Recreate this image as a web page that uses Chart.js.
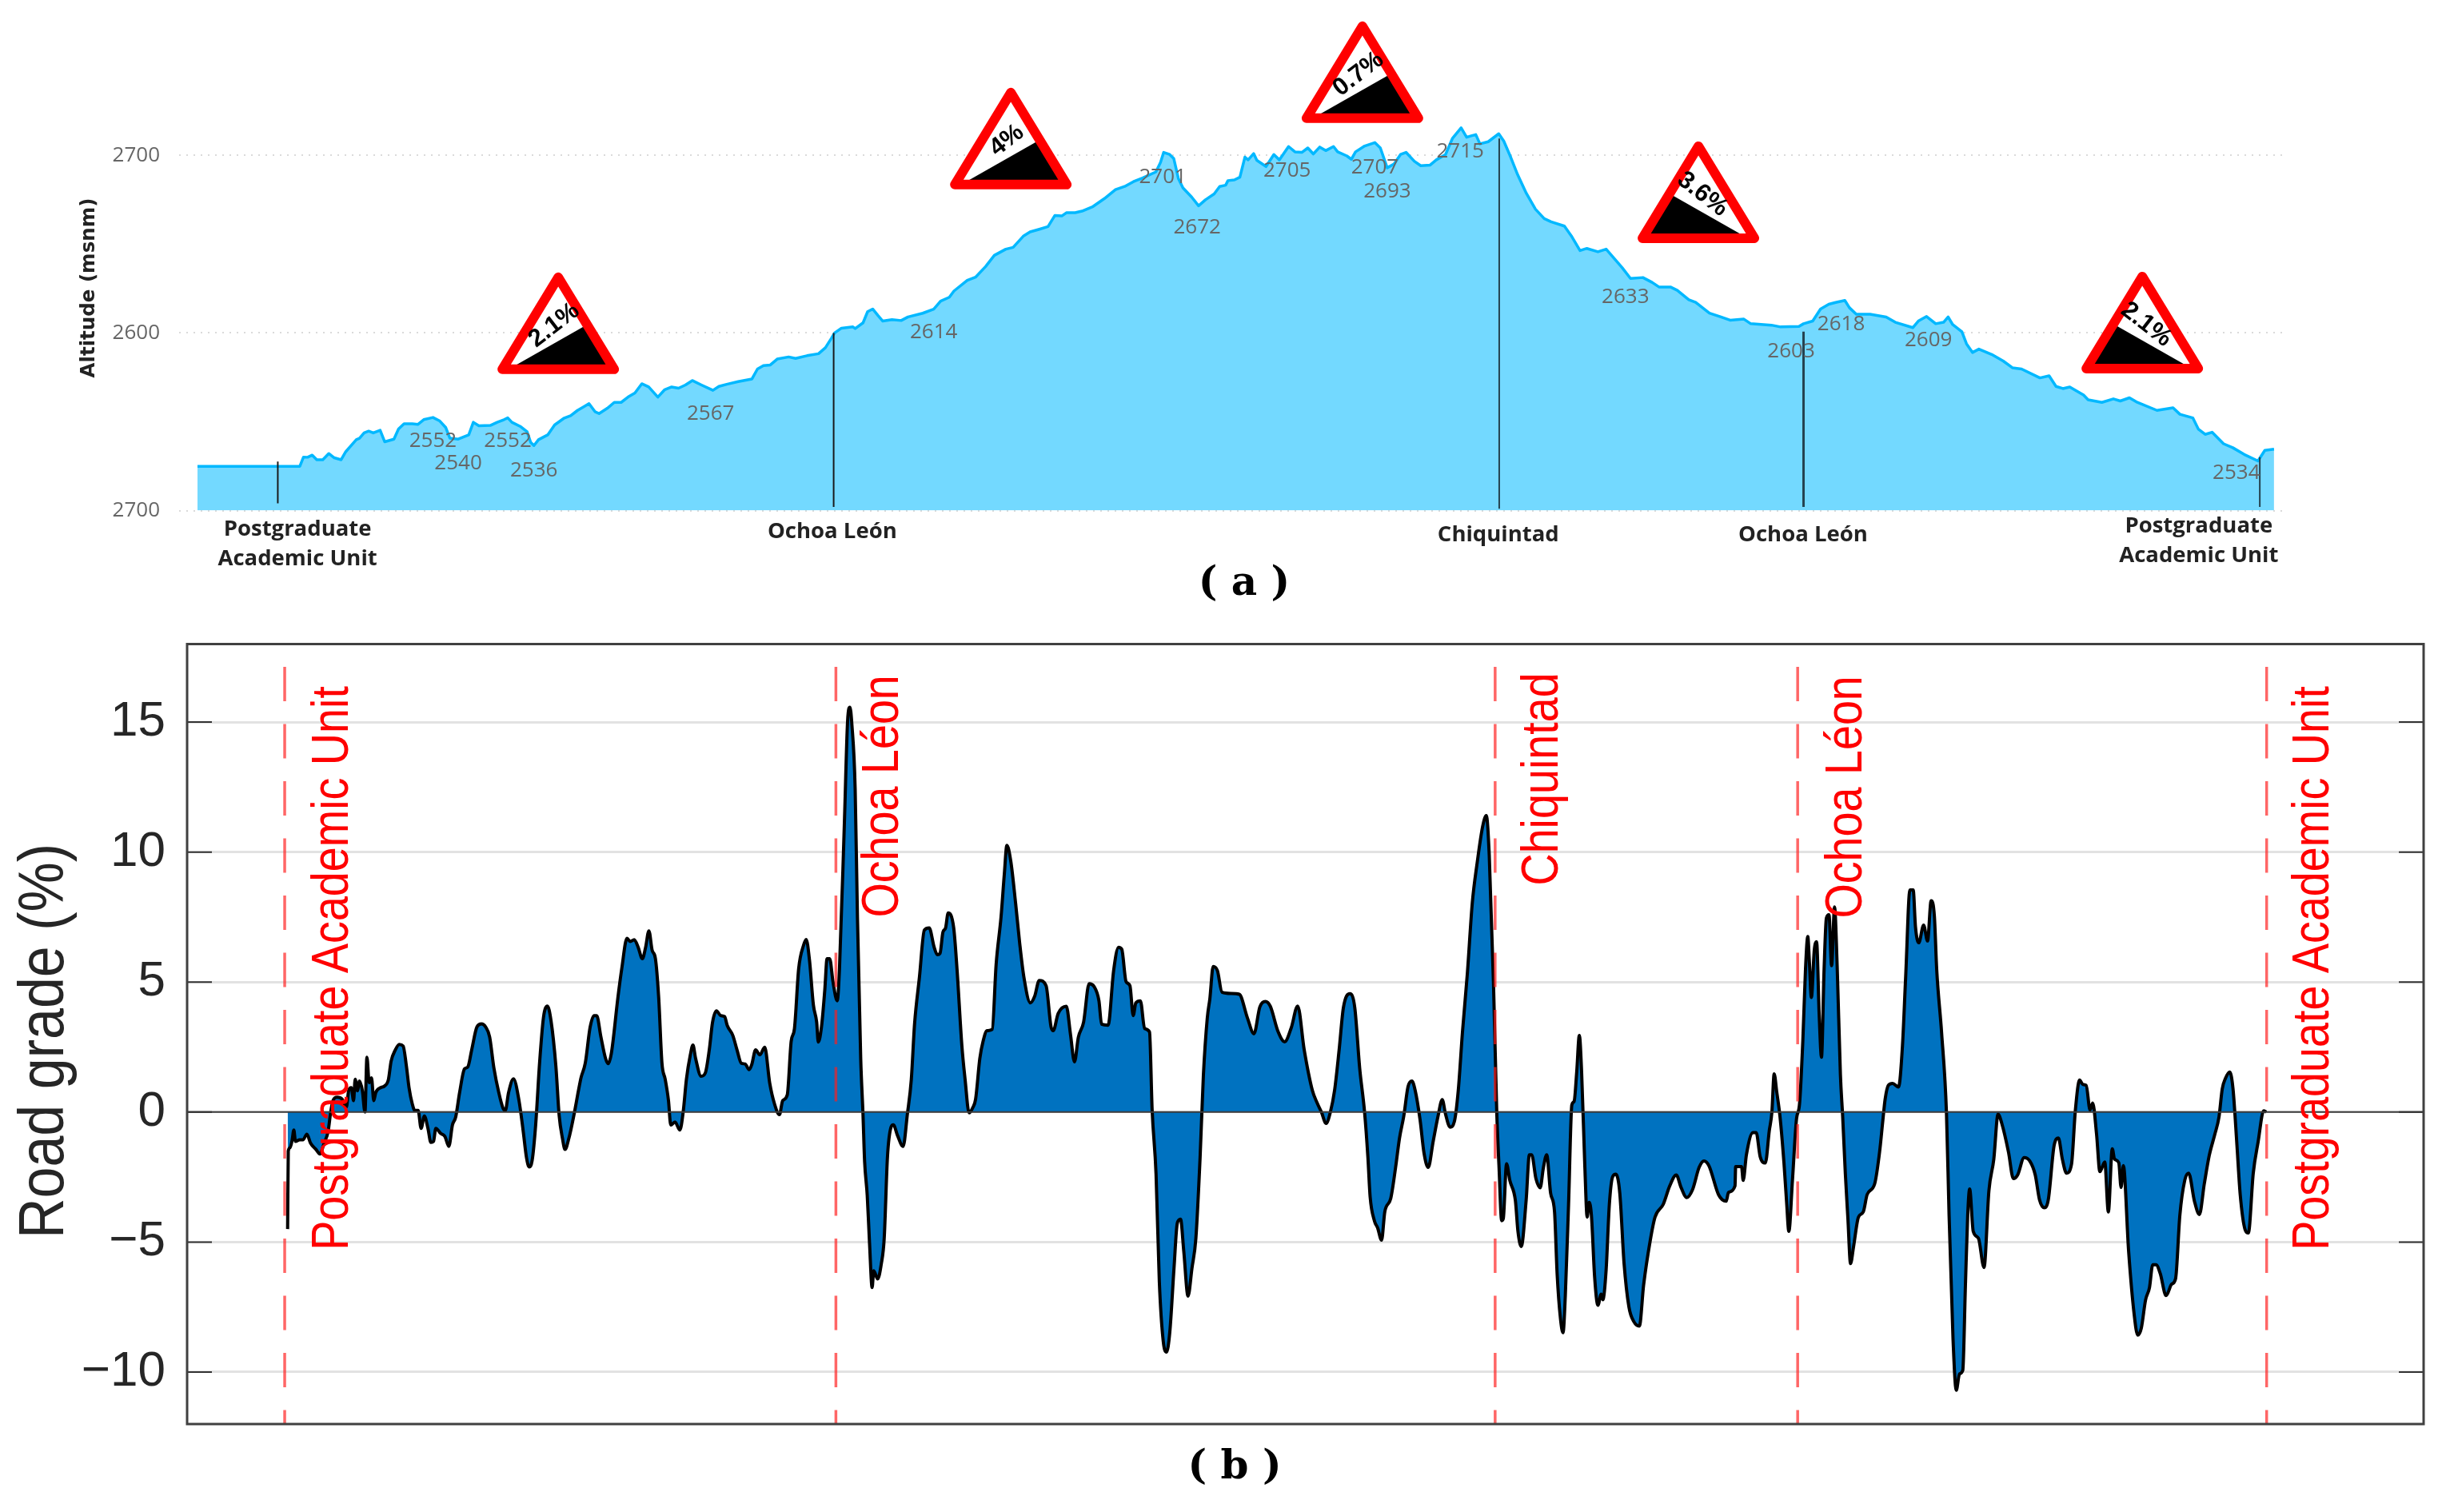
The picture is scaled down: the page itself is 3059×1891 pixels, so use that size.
<!DOCTYPE html>
<html>
<head>
<meta charset="utf-8">
<title>Altitude and road grade</title>
<script src="https://cdn.jsdelivr.net/npm/chart.js@4"></script>
<style>
html,body{margin:0;padding:0;background:#fff;}
canvas{position:absolute;left:0;}
</style>
</head>
<body>
<canvas id="a" width="3059" height="780" style="top:0;width:3059px;height:780px"></canvas>
<canvas id="b" width="3059" height="1111" style="top:780px;width:3059px;height:1111px"></canvas>
<script>
// ---- Panel (a): altitude profile ----
const elevDist = [40,263,271,280,290,300,313,326,338,353,363,373,386,393,403,413,423,438,448,468,478,490,508,520,533,553,568,581,590,608,631,641,653,678,693,708,716,725,743,758,766,773,783,803,818,838,853,868,883,893,906,915,933,948,963,978,993,1008,1023,1043,1058,1073,1088,1103,1118,1138,1163,1176,1193,1218,1248,1260,1273,1288,1303,1328,1343,1368,1393,1408,1421,1428,1443,1468,1473,1490,1500,1511,1523,1533,1553,1573,1588,
1620,1644,1659,1678,1688,1717,1735,1757,1776,1801,1817,1840,1854,1874,1893,1908,1923,1933,1952,1967,1991,2016,2040,2060,2079,2099,2128,2138,2145,2158,2167,2177,2187,2206,2221,2236,2255,2267,2280,2285,2299,2311,2322,2329,2341,2348,2368,2385,2397,2417,2431,2446,2459,2471,2485,2498,2515,2524,2544,2554,2563,2583,2605,2617,2632,2647,2661,2673,2691,2705,2725,2739,2759,2774,2793,2805,2815,2825,2834,2852,2875,2886,2901,2916,2935,2955,2974,2989,3018,3033,3052,3067,3091,
3109,3129,3144,3162,3189,3209,3224,3249,3264,3289,3304,3334,3359,3379,3409,3424,3469,3489,3529,3539,3559,3576,3594,3609,3629,3639,3654,3684,3719,3739,3777,3789,3807,3827,3844,3854,3864,3884,3894,3907,3921,3949,3974,3994,4014,4054,4074,4089,4104,4119,4149,4159,4189,4214,4229,4249,4264,4309,4344,4359,4387,4399,4414,4429,4454,4474,4499,4529,4544,4564];
const elevAlt = [2524.9,2524.9,2530.1,2530,2531.2,2528.6,2528.6,2532.1,2529.7,2528.6,2533.1,2536.1,2539.9,2540.7,2543.7,2544.7,2543.7,2545.2,2538.7,2540.2,2545.9,2548.9,2548.9,2548.5,2551.2,2552.4,2550.4,2546.7,2540.7,2540.2,2542.6,2549.7,2547.7,2547.9,2549.7,2551.2,2552.2,2549.7,2547.4,2544.4,2538.4,2536.6,2539.9,2542.6,2548.2,2551.9,2553.4,2556.4,2558.7,2560.2,2555.7,2554.6,2557.6,2560.9,2560.9,2563.9,2566.2,2571.4,2569.6,2563.9,2568.1,2569.6,2568.9,2570.7,2573.2,2570.7,2567.7,2569.9,2571.1,2572.6,2574.1,2579.7,2581.6,2582,2585.3,2586.5,2585.7,2587.2,2588.3,2591.7,2597,2600,2602.7,2603.4,2602.5,2605.7,2612,2613.5,2609.7,2606.7,2607.5,2607,2609,
2611.1,2613.4,2617.9,2620.1,2623.6,2629.6,2631.4,2637.4,2643.7,2647.2,2648.2,2654.7,2656.9,2658.4,2659.9,2666.2,2665.9,2667.7,2667.7,2668.6,2671.2,2675.7,2680.7,2682.5,2685.2,2687.3,2690.7,2696,2701.7,2700.5,2698.2,2687,2681.7,2676.5,2671.6,2675,2678.3,2682.5,2683.2,2685.8,2686.2,2687.7,2699,2697.5,2701,2697.2,2693.7,2700.5,2697.5,2705,2702,2701.7,2704.2,2700.8,2704.7,2702.7,2705,2702,2699.7,2697.8,2702,2705.3,2707.2,2704.2,2693,2695.2,2700.5,2701.7,2696.7,2694.2,2694.5,2697.5,2700.5,2709.5,2715.5,2710.2,2711,2711.7,2706.5,2707.7,2712.2,2708,2699,2689.2,2678.7,2669.7,2664.4,2662.6,2660.2,2654.7,2646.4,2647.6,2645.7,
2647.2,2641.2,2636.7,2630.7,2631.2,2628.5,2625.9,2625.9,2624,2618.7,2617.2,2611.2,2609,2607.2,2607.8,2605.2,2604.4,2603.4,2603.7,2605.2,2606.7,2613.5,2616.2,2617.2,2618.3,2614.2,2610.5,2610.5,2609,2606,2603,2606.7,2609.3,2605.2,2606,2609,2604.7,2600.7,2593.9,2589,2590.9,2587.9,2584.2,2580.4,2579.7,2574.7,2575.9,2569.9,2568.7,2569.6,2565.1,2562.4,2560.9,2562.9,2561.7,2563.5,2561.2,2556.4,2557.9,2554.2,2552.2,2545.9,2542.9,2544.1,2537.6,2535.4,2531.6,2527.9,2533.9,2534.6];
const elevTicks = [2500,2600,2700];
const elevTickLabels = ['2700','2600','2700'];
const stopDist = [215,1426,2876,3539,4533];
const stopTop = [2527.6,2600,2709.5,2600.7,2530];
const stopBottom = [2504,2502,2501,2502,2502];
const peakLabels = ['2552','2540','2552','2536','2567','2614','2701','2672','2705','2707','2693','2715','2633','2603','2618','2609','2534'];
const peakDist = [553,608,716,773,1158,1644,2143,2218,2414,2605,2632,2791,3151,3512,3621,3811,4482];
const peakAlt = [2539.2,2526.4,2539.2,2522.6,2554.6,2600.2,2687.7,2659.2,2691.5,2693.3,2679.5,2702,2620.2,2589.4,2604.9,2595.7,2521.1];
const placeNames = [['Postgraduate','Academic Unit'],['Ochoa León'],['Chiquintad'],['Ochoa León'],['Postgraduate','Academic Unit']];
const placeDist = [258,1423,2874,3538,4400];
const placeDrop = [24,27,31,31,20];
const signText = ['2.1%','4%','0.7%','3.6%','2.1%'];
const signDist = [826,1812,2578,3310,4277];
const signAlt = [2635.4,2739.4,2776.8,2709.2,2635.8];
const signUphill = [true,true,true,false,false];

// ---- Panel (b): road grade ----
const gradeDist = [308,310,315,322,327,332,345,355,367,378,395,407,420,432,440,447,460,475,488,495,503,510,515,522,528,537,545,551,558,565,572,578,593,605,617,625,638,650,662,672,680,690,698,708,717,727,738,747,755,762,777,790,802,813,823,835,850,860,872,888,902,915,927,940,955,968,975,985,1000,1017,1030,1040,1048,1057,1068,1080,1092,1104,1115,1130,1140,1150,1158,1170,1185,1200,1207,1220,1235,1247,1255,1268,1282,1290,1300,1320,1332,1348,1358,1370,1382,1395,1405,1415,1425,1435,1445,1455,1465,1475,1482,1495,1510,1520,1530,1542,1550,1558,1575,1588,1600,1610,1622,1635,1647,1655,1672,1685,1698,1710,1722,1730,1742,1755,1770,1785,1800,1815,1825,
1839,1851,1861,1874,1889,1897,1907,1919,1929,1934,1944,1954,1961,1969,1979,1992,1999,2014,2024,2031,2037,2047,2054,2064,2071,2076,2084,2091,2099,2104,2116,2127,2136,2146,2157,2164,2177,2194,2207,2219,2229,2244,2259,2274,2289,2299,2307,2316,2324,2332,2349,2359,2374,2384,2396,2407,2416,2429,2439,2451,2467,2479,2494,2504,2512,2524,2539,2551,2564,2584,2597,2611,2632,2647,2654,2669,2694,2707,2719,2731,2747,2764,2779,2794,2802,2822,2839,2854,2864,2877,2889,2899,2907,2921,2934,2949,2957,2969,2979,2991,3001,3011,3024,3034,3044,3054,3067,3079,3091,3104,3114,3126,3134,3144,3157,3171,3199,3224,3249,3269,3287,3304,3319,
3343,3363,3383,3403,3423,3448,3463,3476,3490,3503,3516,3530,3543,3563,3578,3593,3608,3618,3625,3638,3648,3660,3670,3688,3703,3715,3728,3741,3753,3763,3778,3790,3803,3818,3833,3846,3856,3870,3883,3895,3908,3923,3938,3953,3970,3981,3990,4003,4013,4020,4028,4033,4043,4053,4070,4078,4088,4103,4113,4120,4133,4146,4156,4166,4178,4190,4198,4208,4216,4223,4233,4243,4250,4258,4266,4273,4283,4290,4296,4303,4313,4323,4333,4338,4348,4358,4368,4378,4390,4403,4418,4433,4450,4463,4483,4498,4523,4543,4563,4578,4595,4613,4633,4648,4663,4693,4716,4723,4743,4745,4763,4768,4778,4798,4808,4820,4836,4848,4856,
4863,4871,4881,4893,4901,4908,4919,4931,4941,4951,4959,4966,4971,4977,4986,4993,5001,5008,5016,5023,5031,5039,5048,5056,5066,5073,5081,5089,5097,5106,5121,5136,5148,5171,5186,5196,5203,5213,5226,5244,5256,5266,5279,5289,5296,5306,5321,5333,5344,5354,5361,5376,5391,5399,5411,5421,5431,5441,5449,5456,5462,5473,5489,5506,5521,5536,5549,5561,5581,5596,5609,5629,5646,5663,5676,5691,5703,5721,5734,5746,5759,5774,5786,5799,5809,5819,5831,5839,5851,5861,5876,5887,5899,5906,5919,5926,5933,5949,5966,5977,5988,6001,6013,6023,6033,6046,6064,6081,6093,6106,6121,6133,6151,6166,6181,6196,6213,6226,6236,6246,6259,6269,6281,6291,6306,6316,6331,6346,6363,6371];
const gradeVal = [-4.5,-1.5,-1.38,-1.07,-.69,-1.13,-1.07,-1.07,-.85,-1.19,-1.44,-1.61,-1.19,-.75,0,.44,.57,.5,.19,.82,.94,.44,1.26,.82,1.19,.82,0,2.11,1.13,1.32,.44,.75,.94,1,1.26,1.95,2.39,2.6,2.54,1.76,.94,.31,.06,.06,-.63,-.15,-.63,-1.17,-1.13,-.63,-.82,-.94,-1.32,-.5,-.19,.75,1.66,1.73,2.39,3.27,3.39,3.27,2.89,1.7,.75,.15,.06,.75,1.28,.44,-.75,-1.76,-2.11,-1.88,-.5,1.88,3.64,4.08,3.52,1.76,-.13,-1,-1.44,-1,-.13,.88,1.32,1.88,3.27,3.71,3.71,2.89,2.07,1.86,2.26,4.4,5.53,6.68,6.56,6.63,6.34,5.9,6.34,6.97,6.22,5.9,4.4,1.88,1.26,.44,-.5,-.38,-.69,0,1.26,2.2,2.58,2.07,1.38,1.51,2.39,3.45,3.89,3.71,3.67,3.33,2.95,2.39,1.88,1.85,1.63,1.82,2.39,2.2,2.49,1.13,.31,-.1,.44,
.66,2.72,3.21,5.52,6.42,6.64,5.85,4.12,3.46,2.69,3.29,4.7,5.9,5.9,5.02,4.28,5.52,11.12,15.07,15.57,14.9,12.44,7.5,2.06,-.08,-1.9,-3.2,-5.02,-6.75,-6.1,-6.42,-5.85,-4.86,-1.73,-.58,-.49,-.91,-1.32,-.08,1.24,3.38,5.19,7,7.08,6.34,6.05,6.1,6.92,7.08,7.66,7.08,5.52,2.55,1.24,-.03,.16,.49,2.06,2.72,3.13,3.18,5.68,7.5,9.14,10.26,9.64,7.99,6.51,5.19,4.2,4.45,5.06,4.86,3.29,3.13,3.79,4.07,2.97,1.93,2.88,3.46,4.94,4.83,4.28,3.38,3.34,5.44,6.34,6.26,5.02,4.86,3.71,4.2,4.28,3.21,3.08,.08,-2.39,-6.51,-8.81,-9.23,-8.48,-6.01,-4.28,-4.12,-5.36,-7.08,-6.01,-4.86,-1.73,1.4,3.62,4.37,5.6,5.44,4.61,4.56,4.53,3.62,3.01,4.04,4.25,4.07,
3.09,2.7,3.23,4.08,2.39,.83,.34,-.01,-.44,-.01,.83,2.39,4.01,4.55,4.01,1.68,-.01,-1.71,-3.26,-4.18,-4.46,-4.93,-3.83,-3.33,-2.13,-1,-.16,.97,1.19,.83,-.3,-1.57,-2.13,-1.14,-.16,.48,-.08,-.58,-.37,.83,3.09,5.35,8.04,9.59,11,11.4,9.87,4.93,-.01,-2.13,-4.18,-4.1,-1.99,-2.63,-3.4,-4.6,-5.17,-3.4,-1.64,-1.64,-2.56,-2.91,-2.13,-1.64,-3.12,-3.83,-6.23,-7.92,-8.49,-7.08,-3.55,.27,.41,1.54,2.95,1.54,-2.13,-4.04,-3.47,-3.97,-6.37,-7.43,-7,-7.22,-6.09,-3.55,-2.49,-2.39,-3.12,-5.81,-7.5,-8.06,-8.23,-6.65,-4.96,-4.04,-3.55,-2.84,-2.42,-2.91,-3.29,-2.98,-2.13,-1.88,-2.06,-3.19,-3.43,-3.09,-2.84,-2.1,-2.1,-2.63,-1.64,-.79,-.79,-1.71,-1.96,-.72,-.01,
1.47,.76,-.19,-1.95,-3.44,-4.59,-2.63,-.32,.35,2.79,5.49,6.75,5.76,4.41,6.24,6.55,3.73,2.11,5.49,7.46,7.59,5.63,7.89,5.63,1.43,-.19,-2.35,-4.11,-5.83,-5.2,-4.05,-3.84,-3.17,-2.76,-1.54,-.32,.49,1.03,1.1,.96,2.52,5.22,8.54,8.54,7.12,6.51,7.19,6.58,8.13,7.52,5.49,3.06,-.05,-3.98,-8.71,-10.7,-10.07,-9.93,-6.68,-3.98,-2.96,-4.59,-4.86,-5.98,-3.03,-1.81,-.08,-.46,-1.54,-2.56,-2.42,-1.75,-1.88,-2.42,-3.37,-3.68,-3.37,-1.27,-1,-1.81,-2.35,-2.02,.08,1.23,1.06,1.03,.08,.35,-.87,-2.29,-1.92,-3.84,-1.41,-1.81,-1.95,-2.9,-2.06,-5.33,-7.77,-8.58,-8.31,-7.23,-6.75,-5.87,-5.87,-6.21,-7.06,-6.62,-6.41,-3.98,-2.63,-2.35,-3.44,-3.94,-2.76,-1.68,-.87,-.19,.89,1.3,1.54,.89,-1.27,-3.17,-4.52,-4.65,-2.35,-1.14,.05,0];
const gradeTicks = [-10,-5,0,5,10,15];
const markerDist = [299,1988,4008,4935,6372];
const markerNames = ['Postgraduate Academic Unit','Ochoa Léon','Chiquintad','Ochoa Léon','Postgraduate Academic Unit'];
const markerNameDist = [492,2178,4199,5130,6561];
const markerNameGrade = [-5.32,7.48,8.71,7.45,-5.32];

const SANS = '"Liberation Sans", Arial, sans-serif';
const UI = '"Open Sans", sans-serif';
const zip = (xs, ys) => xs.map((x, i) => ({x, y: ys[i]}));

function drawSign(ctx, cx, top, text, uphill) {
  const half = 70, baseY = top + 124, apexY = top + 9;
  const outline = () => {
    ctx.beginPath();
    ctx.moveTo(cx, apexY); ctx.lineTo(cx + half, baseY); ctx.lineTo(cx - half, baseY); ctx.closePath();
  };
  ctx.save();
  ctx.lineJoin = 'round';
  outline();
  ctx.fillStyle = '#fff'; ctx.fill();
  const s = uphill ? 1 : -1;
  ctx.beginPath();
  ctx.moveTo(cx - s * 62, baseY);
  ctx.lineTo(cx + s * 33, top + 70);
  ctx.lineTo(cx + s * 64, baseY);
  ctx.closePath();
  ctx.fillStyle = '#000'; ctx.fill();
  outline();
  ctx.strokeStyle = '#ff0000'; ctx.lineWidth = 12; ctx.stroke();
  ctx.translate(cx - s * 5, top + 69);
  ctx.rotate(uphill ? -0.66 : 0.66);
  ctx.fillStyle = '#000';
  ctx.font = 'bold 31px ' + SANS;
  ctx.textAlign = 'center'; ctx.textBaseline = 'middle';
  ctx.fillText(text, 0, 0);
  ctx.restore();
}

function rotatedText(ctx, text, x, y, font, color, align, stretch) {
  ctx.save();
  ctx.translate(x, y);
  ctx.rotate(-Math.PI / 2);
  ctx.scale(stretch || 1, 1);
  ctx.font = font; ctx.fillStyle = color;
  ctx.textAlign = align; ctx.textBaseline = 'alphabetic';
  ctx.fillText(text, 0, 0);
  ctx.restore();
}

const panelA = {
  id: 'panelA',
  afterDatasetsDraw(chart) {
    const {ctx, scales: {x, y}, chartArea} = chart;
    ctx.save();
    ctx.font = '26px ' + UI; ctx.fillStyle = '#666'; ctx.textAlign = 'center'; ctx.textBaseline = 'middle';
    peakLabels.forEach((t, i) => ctx.fillText(t, x.getPixelForValue(peakDist[i]), y.getPixelForValue(peakAlt[i])));
    ctx.font = 'bold 27.5px ' + UI; ctx.fillStyle = '#222';
    placeNames.forEach((lines, i) => lines.forEach((t, j) =>
      ctx.fillText(t, x.getPixelForValue(placeDist[i]), chartArea.bottom + placeDrop[i] + j * 37)));
    signText.forEach((t, i) => drawSign(ctx, x.getPixelForValue(signDist[i]), y.getPixelForValue(signAlt[i]), t, signUphill[i]));
    rotatedText(ctx, 'Altitude (msnm)', 118, 360, 'bold 24.5px "DejaVu Sans"', '#222', 'center');
    ctx.font = 'bold 50px "DejaVu Serif"'; ctx.fillStyle = '#000';
    ctx.fillText('( a )', 1556, 731);
    ctx.restore();
  }
};

const panelB = {
  id: 'panelB',
  afterDatasetsDraw(chart) {
    const {ctx, scales: {x, y}, chartArea: c} = chart;
    ctx.save();
    ctx.strokeStyle = '#333'; ctx.lineWidth = 2;
    gradeTicks.forEach(v => {
      const p = y.getPixelForValue(v);
      ctx.beginPath();
      ctx.moveTo(c.left, p); ctx.lineTo(c.left + 31, p);
      ctx.moveTo(c.right, p); ctx.lineTo(c.right - 31, p);
      ctx.stroke();
    });
    ctx.strokeStyle = '#404040'; ctx.lineWidth = 3;
    ctx.strokeRect(c.left, c.top, c.right - c.left, c.bottom - c.top);
    markerNames.forEach((t, i) => rotatedText(ctx, t, x.getPixelForValue(markerNameDist[i]), y.getPixelForValue(markerNameGrade[i]),
      '64px ' + SANS, '#ff0000', 'left', 0.87));
    rotatedText(ctx, 'Road grade (%)', 79, 522, '80px ' + SANS, '#262626', 'center', 0.875);
    ctx.font = 'bold 50px "DejaVu Serif"'; ctx.fillStyle = '#000'; ctx.textAlign = 'center'; ctx.textBaseline = 'middle';
    ctx.fillText('( b )', 1544, 1056);
    ctx.restore();
  }
};

const hiddenX = (max) => ({type: 'linear', display: false, min: 0, max: max});

new Chart(document.getElementById('a'), {
  type: 'line',
  plugins: [panelA],
  data: {
    datasets: [
      ...stopDist.map((d, i) => ({
        label: 'stop', data: [{x: d, y: stopTop[i]}, {x: d, y: stopBottom[i]}],
        borderColor: i < 2 ? '#1a1a1a' : '#24424f', borderWidth: i === 3 ? 3 : 2, pointRadius: 0, fill: false
      })),
      {label: 'Altitude', data: zip(elevDist, elevAlt), borderColor: '#00b8ff', borderWidth: 3.5, pointRadius: 0,
       backgroundColor: '#73d9ff', fill: 'start', tension: 0, borderJoinStyle: 'round'}
    ]
  },
  options: {
    responsive: false, animation: false, devicePixelRatio: 1,
    layout: {padding: {left: 0, right: 199, top: 10, bottom: 141.5}},
    plugins: {legend: {display: false}, tooltip: {enabled: false}},
    scales: {
      x: hiddenX(4592),
      y: {
        type: 'linear', min: 2500, max: 2783,
        afterFit(s) { s.width = 224; s.paddingTop = 0; s.paddingBottom = 0; },
        afterBuildTicks(s) { s.ticks = elevTicks.map(v => ({value: v})); },
        border: {display: false, dash: [2, 7]},
        grid: {color: '#dadada', lineWidth: 2, drawTicks: false},
        ticks: {padding: 24, color: '#666', font: {family: UI, size: 26},
                callback: v => elevTickLabels[elevTicks.indexOf(v)]}
      }
    }
  }
});

new Chart(document.getElementById('b'), {
  type: 'line',
  plugins: [panelB],
  data: {
    datasets: [
      ...markerDist.map(d => ({
        label: 'place', data: [{x: d, y: 18}, {x: d, y: -12}],
        borderColor: 'rgba(255,30,30,0.68)', borderWidth: 3.5, borderDash: [43, 28.5], borderDashOffset: 43,
        pointRadius: 0, fill: false
      })),
      {label: 'zero', data: [{x: 0, y: 0}, {x: 6853, y: 0}], borderColor: '#3c3c3c', borderWidth: 2, pointRadius: 0, fill: false},
      {label: 'Road grade', data: zip(gradeDist, gradeVal), borderColor: '#000', borderWidth: 4, pointRadius: 0,
       backgroundColor: '#0072c0', fill: {value: 0}, cubicInterpolationMode: 'monotone', borderJoinStyle: 'round'}
    ]
  },
  options: {
    responsive: false, animation: false, devicePixelRatio: 1,
    layout: {padding: {left: 0, right: 28, top: 25.5, bottom: 110}},
    plugins: {legend: {display: false}, tooltip: {enabled: false}},
    scales: {
      x: hiddenX(6853),
      y: {
        type: 'linear', min: -12, max: 18,
        afterFit(s) { s.width = 234; s.paddingTop = 0; s.paddingBottom = 0; },
        afterBuildTicks(s) { s.ticks = gradeTicks.map(v => ({value: v})); },
        border: {display: false},
        grid: {color: '#e2e2e2', lineWidth: 3, drawTicks: false},
        ticks: {padding: 27, color: '#262626', font: {family: SANS, size: 62},
                callback: v => String(v).replace('-', '−')}
      }
    }
  }
});
</script>
</body>
</html>
